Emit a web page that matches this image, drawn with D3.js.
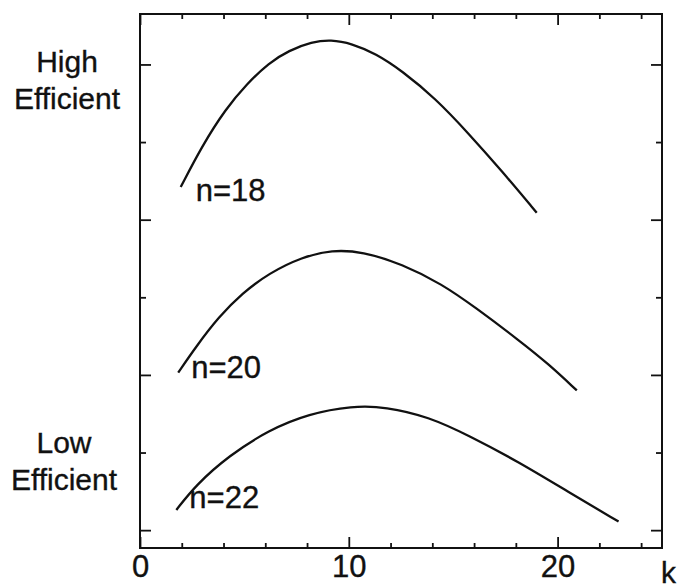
<!DOCTYPE html>
<html>
<head>
<meta charset="utf-8">
<script src="https://cdn.jsdelivr.net/npm/d3@7"></script>
<style>
  body { margin: 0; background: #fff; }
  text { font-family: "Liberation Sans", Arial, Helvetica, sans-serif; fill: #111; stroke: #111; stroke-width: 0.35px; }
</style>
</head>
<body>
<script>
let width = 678;
let height = 588;

// curve data: k and efficiency (arbitrary units, 1 per y tick)
let kN18 = [1.95, 2.97, 4.11, 5.12, 6.17, 7.13, 8.23, 9.14, 10.14, 11.29, 12.54, 14.16, 15.74, 17.32, 19.0];
let effN18 = [4.42, 4.95, 5.43, 5.75, 6.02, 6.18, 6.29, 6.32, 6.27, 6.14, 5.92, 5.56, 5.11, 4.63, 4.09];

let kN20 = [1.83, 2.67, 3.78, 4.89, 6.17, 7.77, 9.20, 10.64, 12.55, 14.46, 16.06, 18.13, 19.57, 20.92];
let effN20 = [2.03, 2.36, 2.75, 3.05, 3.31, 3.52, 3.61, 3.59, 3.43, 3.17, 2.87, 2.45, 2.14, 1.80];

let kN22 = [1.74, 2.67, 4.26, 6.17, 8.09, 10.16, 11.76, 13.83, 15.74, 18.13, 20.53, 22.92];
let effN22 = [0.26, 0.58, 0.96, 1.29, 1.50, 1.60, 1.59, 1.46, 1.22, 0.88, 0.49, 0.11];

let seriesNames = ["n=18", "n=20", "n=22"];
let xTicks = [0, 2, 4, 6, 8, 10, 12, 14, 16, 18, 20, 22, 24];
let xLabels = [0, 10, 20];
let yTicks = [0, 1, 2, 3, 4, 5, 6];
let yMajor = [0, 2, 4, 6];

let plotLeft = 140, plotRight = 662, plotTop = 14, plotBottom = 548;

let x = d3.scaleLinear().domain([0, 25]).range([plotLeft, plotRight]);
let y = d3.scaleLinear().domain([-0.23, 6.65]).range([plotBottom, plotTop]);

let svg = d3.select("body").append("svg")
    .attr("width", width)
    .attr("height", height);

let series = [
    { name: seriesNames[0], k: kN18, v: effN18, dx: 15, dy: 14 },
    { name: seriesNames[1], k: kN20, v: effN20, dx: 13, dy: 5 },
    { name: seriesNames[2], k: kN22, v: effN22, dx: 13, dy: -2 },
];

// axes, ticks pointing inward
let xMajor = d => xLabels.includes(d);

let gBottom = svg.append("g")
    .attr("transform", `translate(0,${plotBottom})`)
    .call(d3.axisBottom(x).tickValues(xTicks).tickSize(-5).tickPadding(7)
        .tickFormat(d => xMajor(d) ? d : ""));
let gTop = svg.append("g")
    .attr("transform", `translate(0,${plotTop})`)
    .call(d3.axisTop(x).tickValues(xTicks).tickSize(-5).tickFormat(""));
let gLeft = svg.append("g")
    .attr("transform", `translate(${plotLeft},0)`)
    .call(d3.axisLeft(y).tickValues(yTicks).tickSize(-6).tickFormat(""));
let gRight = svg.append("g")
    .attr("transform", `translate(${plotRight},0)`)
    .call(d3.axisRight(y).tickValues(yTicks).tickSize(-6).tickFormat(""));

gBottom.selectAll(".tick line").filter(xMajor).attr("y2", -11);
gTop.selectAll(".tick line").filter(xMajor).attr("y2", 11);
gLeft.selectAll(".tick line").filter(d => yMajor.includes(d)).attr("x2", 11);
gRight.selectAll(".tick line").filter(d => yMajor.includes(d)).attr("x2", -11);

[gBottom, gTop, gLeft, gRight].forEach(g => {
    g.select(".domain").remove();
    g.selectAll(".tick line").attr("stroke", "#111").attr("stroke-width", 1.8);
});
gBottom.selectAll(".tick text")
    .style("font-size", "31px")
    .style("font-family", "'Liberation Sans', Arial, sans-serif")
    .attr("fill", "#111");

// frame
svg.append("rect")
    .attr("x", plotLeft)
    .attr("y", plotTop)
    .attr("width", plotRight - plotLeft)
    .attr("height", plotBottom - plotTop)
    .attr("fill", "none")
    .attr("stroke", "#111")
    .attr("stroke-width", 2);

svg.append("text")
    .attr("x", 676)
    .attr("y", 583)
    .attr("text-anchor", "end")
    .style("font-size", "30px")
    .text("k");

// curves
let line = d3.line()
    .x(d => x(d[0]))
    .y(d => y(d[1]))
    .curve(d3.curveBasis);

svg.selectAll("path.curve")
    .data(series)
    .enter()
    .append("path")
    .attr("class", "curve")
    .attr("d", d => line(d.k.map((k, i) => [k, d.v[i]])))
    .attr("fill", "none")
    .attr("stroke", "#111")
    .attr("stroke-width", 2.3);

svg.selectAll("text.label")
    .data(series)
    .enter()
    .append("text")
    .attr("class", "label")
    .attr("x", d => x(d.k[0]) + d.dx)
    .attr("y", d => y(d.v[0]) + d.dy)
    .style("font-size", "31px")
    .text(d => d.name);

// side captions
let captions = [
    { lines: ["High", "Efficient"], cx: 67, y0: 72 },
    { lines: ["Low", "Efficient"], cx: 64, y0: 453 },
];
captions.forEach(c => {
    c.lines.forEach((t, i) => {
        svg.append("text")
            .attr("x", c.cx)
            .attr("y", c.y0 + i * 37)
            .attr("text-anchor", "middle")
            .style("font-size", "30px")
            .text(t);
    });
});
</script>
</body>
</html>
